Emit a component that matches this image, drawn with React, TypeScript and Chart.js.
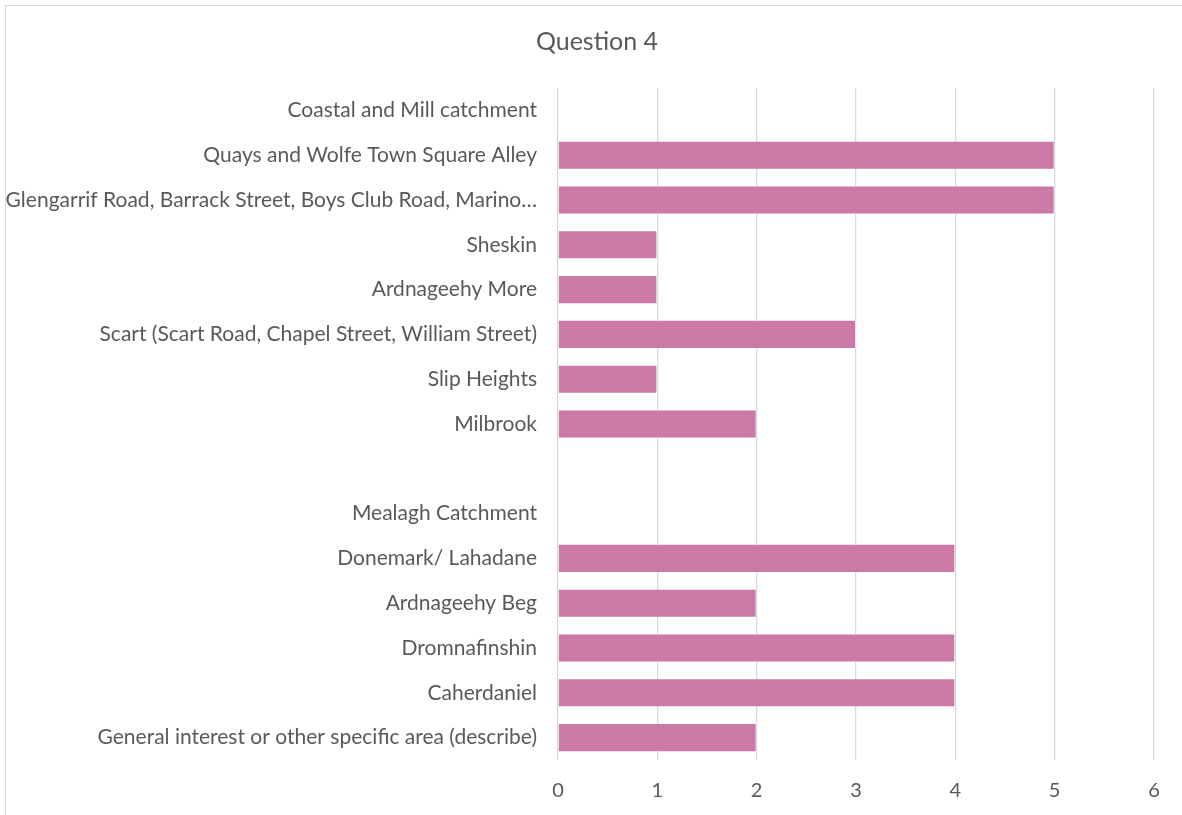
import React, { useEffect, useRef } from "react";
import { Chart, registerables } from "chart.js";

Chart.register(...registerables);

const categories: string[] = [
  "Coastal and Mill catchment",
  "Quays and Wolfe Town Square Alley",
  "Glengarrif Road, Barrack Street, Boys Club Road, Marino…",
  "Sheskin",
  "Ardnageehy More",
  "Scart (Scart Road, Chapel Street, William Street)",
  "Slip Heights",
  "Milbrook",
  "",
  "Mealagh Catchment",
  "Donemark/ Lahadane",
  "Ardnageehy Beg",
  "Dromnafinshin",
  "Caherdaniel",
  "General interest or other specific area (describe)",
];

const values: (number | null)[] = [null, 5, 5, 1, 1, 3, 1, 2, null, null, 4, 2, 4, 4, 2];

const xTicks: number[] = [0, 1, 2, 3, 4, 5, 6];

const FONT = "Lato, 'Open Sans', sans-serif";

const titleShift = {
  id: "titleShift",
  afterLayout(chart: any) {
    if (chart.titleBlock) {
      chart.titleBlock.left = 40;
    }
  },
};

export default function App() {
  const ref = useRef<HTMLCanvasElement | null>(null);

  useEffect(() => {
    document.body.style.margin = "0";
    const canvas = ref.current;
    if (!canvas) return;
    const chart = new Chart(canvas, {
      type: "bar",
      data: {
        labels: categories,
        datasets: [
          {
            data: values,
            backgroundColor: "#CC79A7",
            borderColor: "rgba(255,255,255,0.35)",
            borderWidth: 1,
            barPercentage: 0.65,
            categoryPercentage: 1,
          },
        ],
      },
      plugins: [titleShift],
      options: {
        indexAxis: "y",
        animation: false,
        responsive: false,
        maintainAspectRatio: false,
        layout: { padding: { left: 0, right: 28, top: 0, bottom: 0 } },
        plugins: {
          legend: { display: false },
          tooltip: { enabled: false },
          title: {
            display: true,
            text: "Question 4",
            color: "#595959",
            font: { family: FONT, size: 25, weight: "normal", lineHeight: 1.2 },
            padding: { top: 27, bottom: 31 },
          },
        },
        scales: {
          x: {
            min: 0,
            max: 6,
            afterBuildTicks: (scale: any) => {
              scale.ticks = xTicks.map((v) => ({ value: v }));
            },
            afterFit: (scale: any) => {
              scale.height = 55;
            },
            grid: { color: "#d9d9d9", lineWidth: 1.3, drawTicks: false },
            border: { display: false },
            ticks: {
              color: "#595959",
              font: { family: FONT, size: 20 },
              padding: 19,
            },
          },
          y: {
            afterFit: (scale: any) => {
              scale.width = 558;
            },
            grid: { display: false, drawTicks: false },
            border: { display: false },
            ticks: {
              color: "#595959",
              font: { family: FONT, size: 21 },
              padding: 21,
              autoSkip: false,
            },
          },
        },
      },
    });
    return () => chart.destroy();
  }, []);

  return (
    <div
      style={{
        position: "fixed",
        left: 0,
        top: 0,
        width: 1182,
        height: 815,
        overflow: "hidden",
        background: "#fff",
      }}
    >
      <div
        style={{
          position: "absolute",
          left: 5,
          top: 5,
          width: 1200,
          height: 830,
          border: "1px solid #d9d9d9",
        }}
      />
      <canvas
        ref={ref}
        width={1182}
        height={815}
        style={{ position: "absolute", left: 0, top: 0, width: 1182, height: 815 }}
      />
    </div>
  );
}
